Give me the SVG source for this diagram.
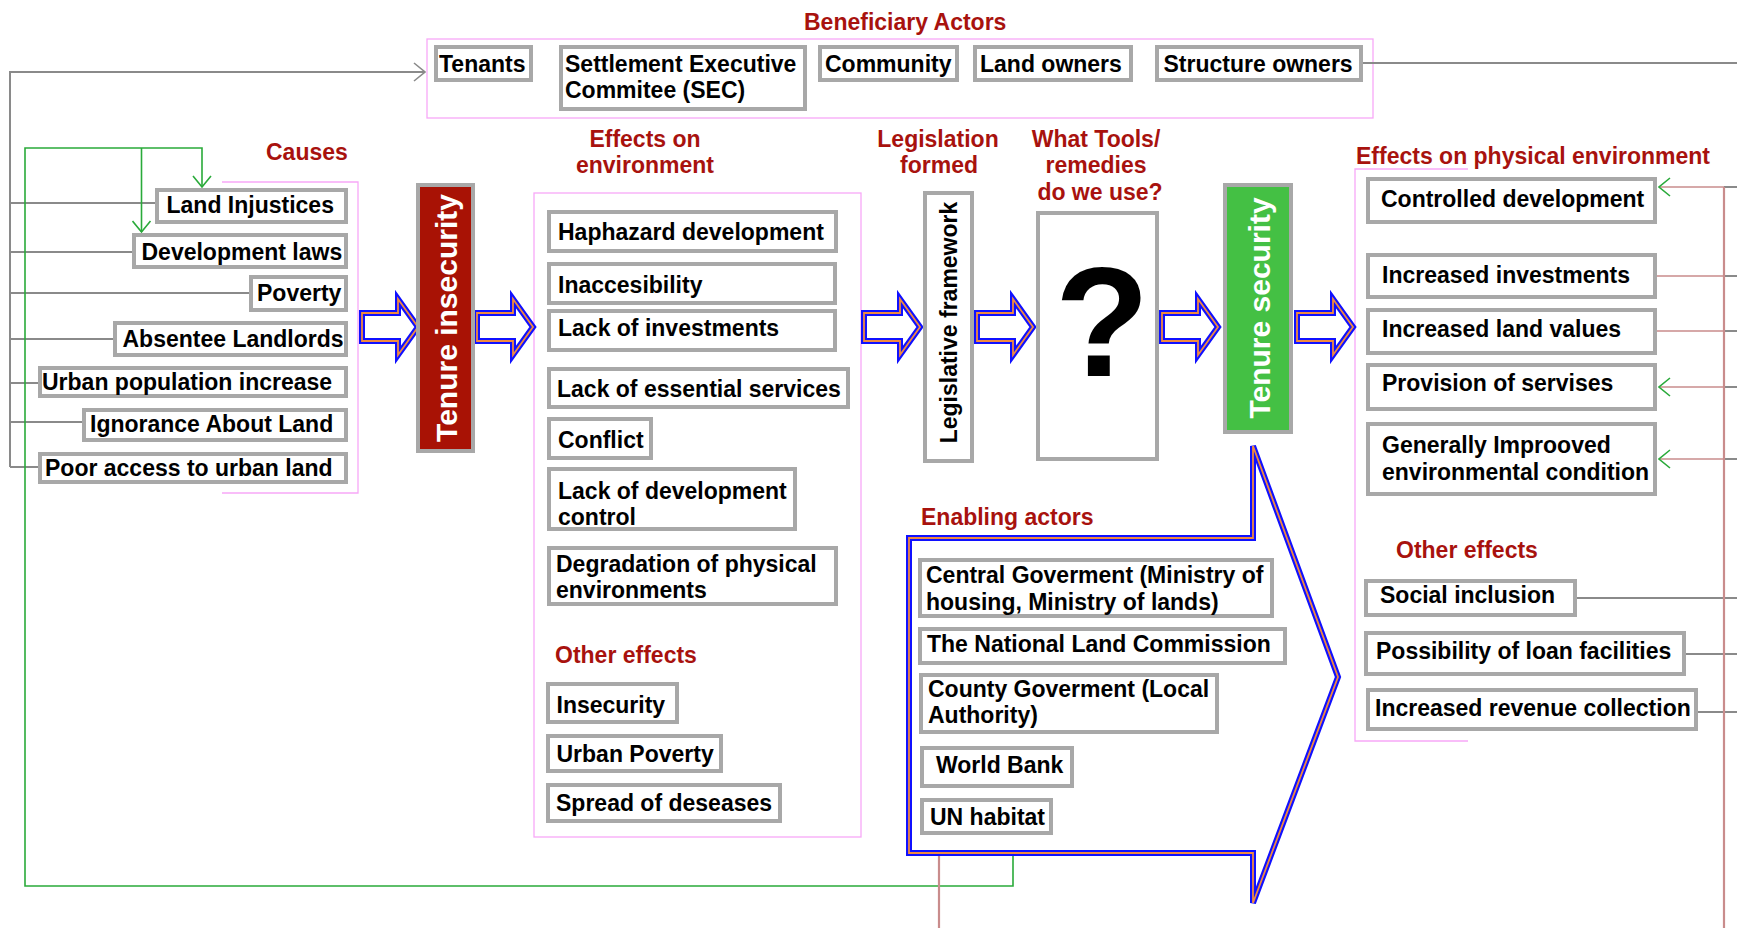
<svg xmlns="http://www.w3.org/2000/svg" width="1737" height="928" viewBox="0 0 1737 928">
<defs>
<style>
.bg{fill:#ffffff}
.box{fill:#ffffff;stroke:#a8a8a8;stroke-width:4}
.t{font-family:"Liberation Sans",Arial,sans-serif;font-weight:bold;font-size:23px;fill:#000}
.lbl{font-family:"Liberation Sans",Arial,sans-serif;font-weight:bold;font-size:23px;fill:#a8120e}
.pink{fill:none;stroke:#f7a8f7;stroke-width:1.3}
.gray{fill:none;stroke:#8a8a8a;stroke-width:2}
.green{fill:none;stroke:#2aaa3a;stroke-width:1.6}
.brown{fill:none;stroke:#c98c8c;stroke-width:1.4}
.brownv{fill:none;stroke:#c98c8c;stroke-width:2.2}
.arrB{fill:#ffffff;stroke:#1010ff;stroke-width:6;stroke-linejoin:miter}
.arrO{fill:none;stroke:#f08a40;stroke-width:1.8;stroke-linejoin:miter}
.vt{font-family:"Liberation Sans",Arial,sans-serif;font-weight:bold;font-size:30px;fill:#ffffff}
</style>
<marker id="mg" markerUnits="userSpaceOnUse" viewBox="-1 -10 13 20" markerWidth="13" markerHeight="20" refX="11" refY="0" orient="auto">
<path d="M0,-9 L11,0 L0,9" fill="none" stroke="#2aaa3a" stroke-width="1.6"/>
</marker>
<marker id="my" markerUnits="userSpaceOnUse" viewBox="-1 -10 13 20" markerWidth="13" markerHeight="20" refX="11" refY="0" orient="auto">
<path d="M0,-9 L11,0 L0,9" fill="none" stroke="#8a8a8a" stroke-width="1.6"/>
</marker>
<path id="ha" d="M0,-14 H36 V-28 L56,0 L36,28 V14 H0 Z"/>
</defs>
<rect class="bg" x="0" y="0" width="1737" height="928"/>

<g id="frames">
<rect class="pink" x="427" y="39" width="946" height="79"/>
<path class="pink" d="M222,182 H358 V493 H222"/>
<rect class="pink" x="534" y="193" width="327" height="644"/>
<path class="pink" d="M1468,169 H1355 V741 H1468"/>
</g>

<g id="connectors">
<path class="gray" d="M10,467 V72 H425" marker-end="url(#my)"/>
<path class="gray" d="M10,203 H155 M10,252 H132 M10,293 H249 M10,339 H113 M10,383 H38 M10,422 H82 M10,467 H38"/>
<path class="gray" d="M1363,63 H1737 M1724,187 H1737 M1724,276 H1737 M1724,331 H1737 M1724,387 H1737 M1724,459 H1737 M1577,598 H1737 M1686,654 H1737 M1698,712 H1737"/>
<path class="green" d="M1013,855 V886 H25 V148 H202 V187" marker-end="url(#mg)"/>
<path class="green" d="M141.5,148 V232" marker-end="url(#mg)"/>
<path class="brownv" d="M1724,187 V928 M939,855 V928"/>
<path class="brown" d="M1724,187 H1659" marker-end="url(#mg)"/>
<path class="brown" d="M1657,276 H1724 M1657,331 H1724"/>
<path class="brown" d="M1724,387 H1659" marker-end="url(#mg)"/>
<path class="brown" d="M1724,459 H1659" marker-end="url(#mg)"/>
</g>

<g id="labels">
<text class="lbl" x="804" y="30">Beneficiary Actors</text>
<text class="lbl" x="266" y="160">Causes</text>
<text class="lbl" x="645" y="147" text-anchor="middle">Effects on</text>
<text class="lbl" x="645" y="173" text-anchor="middle">environment</text>
<text class="lbl" x="938" y="147" text-anchor="middle">Legislation</text>
<text class="lbl" x="939" y="173" text-anchor="middle">formed</text>
<text class="lbl" x="1096" y="147" text-anchor="middle">What Tools/</text>
<text class="lbl" x="1096" y="173" text-anchor="middle">remedies</text>
<text class="lbl" x="1100" y="200" text-anchor="middle">do we use?</text>
<text class="lbl" x="1356" y="164">Effects on physical environment</text>
<text class="lbl" x="1396" y="558">Other effects</text>
<text class="lbl" x="555" y="663">Other effects</text>
<text class="lbl" x="921" y="525">Enabling actors</text>
</g>

<g id="hollow-arrows">
<g transform="translate(362,327)"><use href="#ha" class="arrB"/><use href="#ha" class="arrO"/></g>
<g transform="translate(477,327)"><use href="#ha" class="arrB"/><use href="#ha" class="arrO"/></g>
<g transform="translate(864,327)"><use href="#ha" class="arrB"/><use href="#ha" class="arrO"/></g>
<g transform="translate(977,327)"><use href="#ha" class="arrB"/><use href="#ha" class="arrO"/></g>
<g transform="translate(1162,327)"><use href="#ha" class="arrB"/><use href="#ha" class="arrO"/></g>
<g transform="translate(1297,327)"><use href="#ha" class="arrB"/><use href="#ha" class="arrO"/></g>
</g>

<g id="enabling-arrow">
<path class="arrB" d="M909,538 H1253 V446 L1338,677 L1253,903 V853 H909 Z"/>
<path class="arrO" d="M909,538 H1253 V446 L1338,677 L1253,903 V853 H909 Z"/>
</g>

<g id="n-tenants"><rect class="box" x="436" y="47" width="95" height="33"/><text class="t" x="439" y="72">Tenants</text></g>
<g id="n-sec"><rect class="box" x="561" y="47" width="244" height="62"/><text class="t" x="565" y="72">Settlement Executive</text><text class="t" x="565" y="98">Commitee (SEC)</text></g>
<g id="n-community"><rect class="box" x="820" y="47" width="137" height="33"/><text class="t" x="825" y="72">Community</text></g>
<g id="n-landowners"><rect class="box" x="975" y="47" width="156" height="33"/><text class="t" x="980" y="72">Land owners</text></g>
<g id="n-structure"><rect class="box" x="1157" y="47" width="204" height="33"/><text class="t" x="1163.5" y="72">Structure owners</text></g>

<g id="n-landinj"><rect class="box" x="157" y="190" width="189" height="32"/><text class="t" x="166.5" y="213">Land Injustices</text></g>
<g id="n-devlaws"><rect class="box" x="134" y="235" width="212" height="32"/><text class="t" x="141.5" y="260">Development laws</text></g>
<g id="n-poverty"><rect class="box" x="251" y="277" width="95" height="33"/><text class="t" x="257" y="301">Poverty</text></g>
<g id="n-absentee"><rect class="box" x="115" y="323" width="231" height="32"/><text class="t" x="122.5" y="347">Absentee Landlords</text></g>
<g id="n-urbanpop"><rect class="box" x="40" y="368" width="306" height="28"/><text class="t" x="42" y="390">Urban population increase</text></g>
<g id="n-ignorance"><rect class="box" x="84" y="410" width="262" height="30"/><text class="t" x="90" y="432">Ignorance About Land</text></g>
<g id="n-pooraccess"><rect class="box" x="40" y="454" width="306" height="28"/><text class="t" x="45" y="476">Poor access to urban land</text></g>

<g id="n-insecurity"><rect x="418" y="185" width="55" height="266" fill="#a81205" stroke="#a8a8a8" stroke-width="4"/><text class="vt" transform="translate(457,318) rotate(-90)" text-anchor="middle">Tenure insecurity</text></g>

<g id="n-haphazard"><rect class="box" x="549" y="212" width="287" height="39"/><text class="t" x="558" y="240">Haphazard development</text></g>
<g id="n-inacc"><rect class="box" x="549" y="264" width="286" height="39"/><text class="t" x="558" y="293">Inaccesibility</text></g>
<g id="n-lackinv"><rect class="box" x="549" y="311" width="286" height="39"/><text class="t" x="558" y="336">Lack of investments</text></g>
<g id="n-lackess"><rect class="box" x="549" y="369" width="299" height="38"/><text class="t" x="557" y="397">Lack of essential services</text></g>
<g id="n-conflict"><rect class="box" x="549" y="419" width="102" height="39"/><text class="t" x="558" y="448">Conflict</text></g>
<g id="n-lackdev"><rect class="box" x="549" y="469" width="246" height="60"/><text class="t" x="558" y="499">Lack of development</text><text class="t" x="558" y="525">control</text></g>
<g id="n-degrad"><rect class="box" x="549" y="548" width="287" height="56"/><text class="t" x="556" y="572">Degradation of physical</text><text class="t" x="556" y="598">environments</text></g>
<g id="n-insec2"><rect class="box" x="548" y="684" width="129" height="38"/><text class="t" x="556.5" y="713">Insecurity</text></g>
<g id="n-urbpov"><rect class="box" x="548" y="736" width="173" height="35"/><text class="t" x="556.5" y="762">Urban Poverty</text></g>
<g id="n-spread"><rect class="box" x="548" y="785" width="232" height="36"/><text class="t" x="556" y="811">Spread of deseases</text></g>

<g id="n-legis"><rect class="box" x="925" y="193" width="47" height="268"/><text class="t" transform="translate(957,322.5) rotate(-90)" text-anchor="middle">Legislative framework</text></g>

<g id="n-question"><rect class="box" x="1038" y="213" width="119" height="246"/><text x="1102" y="376" text-anchor="middle" font-family="Liberation Sans, Arial, sans-serif" font-weight="bold" font-size="155" fill="#000">?</text></g>

<g id="n-security"><rect x="1225" y="185" width="66" height="247" fill="#44c044" stroke="#a8a8a8" stroke-width="4"/><text class="vt" transform="translate(1270,308) rotate(-90)" text-anchor="middle">Tenure security</text></g>

<g id="n-central"><rect class="box" x="920" y="560" width="352" height="56"/><text class="t" x="926" y="583">Central Goverment (Ministry of</text><text class="t" x="926" y="610">housing, Ministry of lands)</text></g>
<g id="n-nlc"><rect class="box" x="920" y="629" width="365" height="34"/><text class="t" x="927" y="652">The National Land Commission</text></g>
<g id="n-county"><rect class="box" x="921" y="675" width="296" height="57"/><text class="t" x="928" y="697">County Goverment (Local</text><text class="t" x="928" y="723">Authority)</text></g>
<g id="n-wb"><rect class="box" x="922" y="748" width="150" height="38"/><text class="t" x="936" y="773">World Bank</text></g>
<g id="n-un"><rect class="box" x="922" y="800" width="129" height="33"/><text class="t" x="930" y="825">UN habitat</text></g>

<g id="n-controlled"><rect class="box" x="1368" y="179" width="287" height="43"/><text class="t" x="1381" y="207">Controlled development</text></g>
<g id="n-incinv"><rect class="box" x="1368" y="255" width="287" height="42"/><text class="t" x="1382" y="283">Increased investments</text></g>
<g id="n-incland"><rect class="box" x="1368" y="310" width="287" height="43"/><text class="t" x="1382" y="337">Increased land values</text></g>
<g id="n-provision"><rect class="box" x="1368" y="365" width="287" height="44"/><text class="t" x="1382" y="391">Provision of servises</text></g>
<g id="n-generally"><rect class="box" x="1368" y="424" width="287" height="70"/><text class="t" x="1382" y="453">Generally Improoved</text><text class="t" x="1382" y="480">environmental condition</text></g>
<g id="n-social"><rect class="box" x="1366" y="581" width="209" height="34"/><text class="t" x="1380" y="603">Social inclusion</text></g>
<g id="n-loan"><rect class="box" x="1366" y="633" width="318" height="41"/><text class="t" x="1376" y="659">Possibility of loan facilities</text></g>
<g id="n-revenue"><rect class="box" x="1368" y="690" width="328" height="39"/><text class="t" x="1375" y="716">Increased revenue collection</text></g>
</svg>
